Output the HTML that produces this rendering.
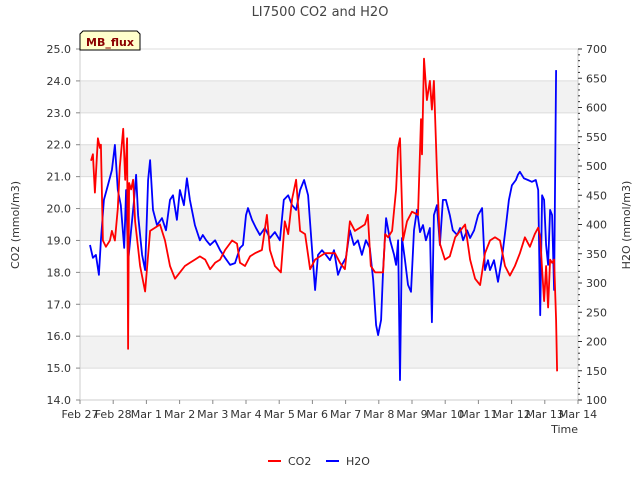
<!DOCTYPE html>
<html><head><meta charset="utf-8"><style>
body{margin:0;background:#fff;font-family:"Liberation Sans","DejaVu Sans",sans-serif}
svg text{font-family:"DejaVu Sans","Liberation Sans",sans-serif}
</style></head><body>
<svg id="c" width="640" height="480" xmlns="http://www.w3.org/2000/svg"></svg>
<script>
const xTickLabels=["Feb 27","Feb 28","Mar 1","Mar 2","Mar 3","Mar 4","Mar 5","Mar 6","Mar 7","Mar 8","Mar 9","Mar 10","Mar 11","Mar 12","Mar 13","Mar 14"];
const leftTicks=[14,15,16,17,18,19,20,21,22,23,24,25];
const rightTicks=[100,150,200,250,300,350,400,450,500,550,600,650,700];
const co2Days=[0.33,0.39,0.45,0.54,0.60,0.63,0.69,0.78,0.90,0.96,1.05,1.14,1.20,1.30,1.36,1.42,1.45,1.48,1.54,1.60,1.66,1.81,1.96,2.11,2.26,2.41,2.56,2.71,2.86,3.01,3.16,3.31,3.46,3.61,3.77,3.92,4.07,4.22,4.37,4.58,4.73,4.82,4.97,5.12,5.27,5.48,5.63,5.72,5.87,6.05,6.17,6.27,6.39,6.51,6.63,6.78,6.93,7.08,7.23,7.38,7.53,7.68,7.83,7.98,8.13,8.28,8.43,8.58,8.67,8.76,8.89,9.04,9.13,9.19,9.28,9.40,9.52,9.58,9.64,9.73,9.85,10.0,10.18,10.27,10.30,10.36,10.45,10.54,10.60,10.66,10.75,10.84,10.99,11.14,11.30,11.45,11.60,11.75,11.90,12.05,12.20,12.35,12.50,12.65,12.80,12.95,13.10,13.25,13.40,13.55,13.70,13.80,13.86,13.92,13.98,14.04,14.10,14.16,14.22,14.28,14.34,14.37];
const co2Values=[21.5,21.7,20.5,22.2,21.9,22.0,19.0,18.8,19.0,19.3,19.0,20.0,21.3,22.5,20.9,22.2,15.6,20.8,20.6,20.9,19.6,18.2,17.4,19.3,19.4,19.5,19.0,18.2,17.8,18.0,18.2,18.3,18.4,18.5,18.4,18.1,18.3,18.4,18.7,19.0,18.9,18.3,18.2,18.5,18.6,18.7,19.8,18.7,18.2,18.0,19.6,19.2,20.3,20.9,19.3,19.2,18.1,18.4,18.5,18.6,18.6,18.6,18.3,18.1,19.6,19.3,19.4,19.5,19.8,18.2,18.0,18.0,18.0,19.2,19.1,19.3,20.6,21.9,22.2,19.0,19.6,19.9,19.8,22.8,21.7,24.7,23.4,24.0,23.1,24.0,21.2,18.9,18.4,18.5,19.1,19.3,19.5,18.4,17.8,17.6,18.6,19.0,19.1,19.0,18.2,17.9,18.2,18.6,19.1,18.8,19.2,19.4,19.1,18.1,17.1,18.2,16.9,18.4,18.3,18.4,16.5,14.9];
const h2oDays=[0.30,0.39,0.48,0.57,0.63,0.72,0.84,0.96,1.05,1.14,1.23,1.33,1.39,1.45,1.54,1.63,1.69,1.75,1.87,1.96,2.05,2.11,2.20,2.32,2.47,2.59,2.71,2.80,2.92,3.01,3.13,3.22,3.31,3.46,3.61,3.70,3.80,3.92,4.07,4.22,4.37,4.52,4.67,4.82,4.91,5.00,5.06,5.18,5.30,5.42,5.57,5.72,5.87,6.02,6.14,6.27,6.39,6.51,6.63,6.75,6.87,6.99,7.08,7.17,7.29,7.41,7.53,7.65,7.77,7.89,8.01,8.13,8.25,8.37,8.49,8.61,8.73,8.83,8.92,8.98,9.07,9.13,9.22,9.34,9.46,9.52,9.58,9.64,9.70,9.79,9.88,9.97,10.06,10.15,10.24,10.33,10.42,10.54,10.60,10.66,10.75,10.84,10.93,11.02,11.14,11.23,11.36,11.45,11.54,11.66,11.75,11.87,11.99,12.11,12.20,12.29,12.35,12.47,12.59,12.71,12.83,12.92,13.01,13.13,13.19,13.25,13.37,13.49,13.61,13.73,13.80,13.86,13.92,13.98,14.04,14.10,14.16,14.22,14.28,14.34];
const h2oValues=[365,343,348,314,373,442,467,493,536,459,433,360,459,336,390,442,485,416,348,322,476,510,425,399,411,390,442,450,408,459,433,479,442,399,373,382,373,365,373,356,343,331,334,360,365,416,428,408,394,382,394,377,387,373,442,450,433,425,459,476,450,356,288,348,356,348,339,356,314,331,343,390,365,373,348,373,360,305,228,211,237,322,411,373,348,331,373,134,377,339,297,285,390,425,387,399,373,394,233,416,433,365,442,442,416,390,382,394,373,390,377,390,416,428,322,339,322,339,302,343,399,442,467,476,485,490,479,476,473,476,459,245,450,442,365,331,425,416,288,664];

const NS="http://www.w3.org/2000/svg",svg=document.getElementById('c');
const L=80,R=578,T=49,B=400;
const x=d=>L+d*(R-L)/15;
const yL=v=>B-(v-14)*(B-T)/11;
const yR=v=>B-(v-100)*(B-T)/600;
function el(tag,a,p){const e=document.createElementNS(NS,tag);for(const k in a)e.setAttribute(k,a[k]);(p||svg).appendChild(e);return e;}
function txt(s,a){const e=el('text',a);e.textContent=s;return e;}

const bg=el('g',{});
el('rect',{x:L,y:T,width:R-L,height:B-T,fill:'#fff'},bg);
[15,17,19,21,23].forEach(v=>{el('rect',{x:L,y:yL(v+1),width:R-L,height:yL(v)-yL(v+1),fill:'#f2f2f2'},bg);});
leftTicks.forEach(v=>{el('line',{x1:L,x2:R,y1:yL(v),y2:yL(v),stroke:'#dcdcdc','stroke-width':1},bg);});
el('line',{x1:L,x2:L,y1:T,y2:B,stroke:'#ccc'},bg);
el('line',{x1:R,x2:R,y1:T,y2:B,stroke:'#ccc'},bg);
el('line',{x1:L,x2:R,y1:B,y2:B,stroke:'#ccc'},bg);

const lt=el('g',{});
leftTicks.forEach(v=>{el('line',{x1:L-4,x2:L,y1:yL(v),y2:yL(v),stroke:'#888'},lt);
 const t=el('text',{x:L-9,y:yL(v)+4,'text-anchor':'end','font-size':11,fill:'#333'},lt);t.textContent=v.toFixed(1);});
const rt=el('g',{});
for(let v=100;v<=700;v+=10){el('line',{x1:R,x2:R+(v%50?2:4),y1:yR(v),y2:yR(v),stroke:'#333'},rt);}
rightTicks.forEach(v=>{const t=el('text',{x:R+8,y:yR(v)+4,'font-size':11,fill:'#333'},rt);t.textContent=v;});
const xt=el('g',{});
xTickLabels.forEach((s,i)=>{el('line',{x1:x(i),x2:x(i),y1:B,y2:B+4,stroke:'#888'},xt);
 const t=el('text',{x:x(i),y:B+18,'text-anchor':'middle','font-size':11,fill:'#333'},xt);t.textContent=s;});

function line(days,vals,yf,color,name){
 const p=el('polyline',{points:days.map((d,i)=>x(d).toFixed(1)+','+yf(vals[i]).toFixed(1)).join(' '),fill:'none',stroke:color,'stroke-width':1.8,'stroke-linejoin':'round'});
 }
line(h2oDays,h2oValues,yR,'#0000ff','h2o-line');
line(co2Days,co2Values,yL,'#ff0000','co2-line');

let t;
t=txt('LI7500 CO2 and H2O',{x:320,y:16,'text-anchor':'middle','font-size':13,fill:'#444'});
t=txt('CO2 (mmol/m3)',{x:19,y:225,'text-anchor':'middle','font-size':11,fill:'#333',transform:'rotate(-90 19 225)'});
t=txt('H2O (mmol/m3)',{x:630,y:225,'text-anchor':'middle','font-size':11,fill:'#333',transform:'rotate(-90 630 225)'});
t=txt('Time',{x:578,y:433,'text-anchor':'end','font-size':11,fill:'#333'});

const mb=el('g',{});
el('path',{d:'M80,50 L80,34 L83,31 L137,31 L140,34 L140,50 Z',fill:'#ffffcc',stroke:'#000','stroke-width':1},mb);
const mt=el('text',{x:110,y:46,'text-anchor':'middle','font-size':11,'font-weight':'bold',fill:'#8b0000'},mb);mt.textContent='MB_flux';

const lg=el('g',{});
const e1=el('g',{},lg);
el('line',{x1:268,x2:281,y1:461,y2:461,stroke:'#ff0000','stroke-width':2},e1);
const l1=el('text',{x:288,y:465,'font-size':11,fill:'#333'},e1);l1.textContent='CO2';
const e2=el('g',{},lg);
el('line',{x1:326,x2:339,y1:461,y2:461,stroke:'#0000ff','stroke-width':2},e2);
const l2=el('text',{x:346,y:465,'font-size':11,fill:'#333'},e2);l2.textContent='H2O';
</script>
</body></html>
